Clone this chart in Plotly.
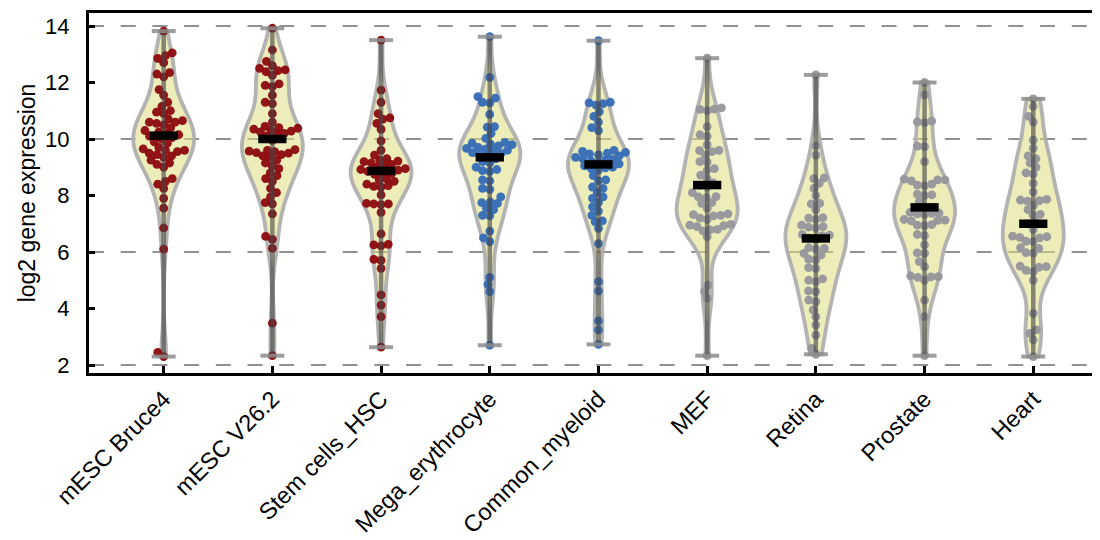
import numpy as np
import plotly.graph_objects as go

categories = ["mESC Bruce4", "mESC V26.2", "Stem cells_HSC", "Mega_erythrocyte",
              "Common_myeloid", "MEF", "Retina", "Prostate", "Heart"]

bruce4 = [13.82, 13.05, 12.95, 12.85, 12.7, 12.35, 12.3, 12.2, 11.75, 11.55, 11.3, 11.15,
          11.0, 10.95, 10.9, 10.7, 10.65, 10.6, 10.6, 10.55, 10.5, 10.4, 10.3, 10.25, 10.2,
          10.15, 10.1, 10.05, 10.0, 9.9, 9.85, 9.7, 9.65, 9.6, 9.6, 9.55, 9.5, 9.45, 9.4,
          9.35, 9.25, 9.15, 9.1, 9.0, 8.6, 8.5, 8.4, 8.25, 7.9, 7.55, 6.85, 6.1, 2.45, 2.3]
v26 = [13.92, 13.15, 12.75, 12.6, 12.5, 12.45, 12.42, 12.38, 12.25, 11.95, 11.9, 11.85, 11.55,
       11.3, 11.25, 10.9, 10.6, 10.45, 10.4, 10.38, 10.35, 10.3, 10.28, 10.25, 10.2, 10.15,
       10.1, 9.95, 9.62, 9.6, 9.57, 9.55, 9.52, 9.5, 9.45, 9.4, 9.35, 9.25, 9.15, 9.05, 8.95,
       8.8, 8.7, 8.6, 8.5, 8.25, 8.1, 7.95, 7.75, 7.7, 7.35, 6.55, 6.45, 6.13, 3.48, 2.33]
hsc = [13.5, 11.73, 11.3, 10.9, 10.75, 10.7, 10.55, 10.34, 9.93, 9.6, 9.43, 9.3, 9.25, 9.22,
       9.2, 9.15, 9.1, 9.05, 9.0, 8.95, 8.92, 8.9, 8.85, 8.8, 8.78, 8.75, 8.6, 8.55, 8.5,
       8.4, 8.35, 8.32, 8.3, 8.02, 7.72, 7.7, 7.7, 7.68, 7.4, 6.64, 6.27, 6.25, 6.22, 5.74,
       5.7, 5.42, 4.48, 4.12, 3.71, 2.63]
mega = [13.62, 12.18, 11.5, 11.45, 11.3, 11.28, 10.87, 10.44, 10.42, 10.2, 10.02, 9.88, 9.85,
        9.82, 9.8, 9.76, 9.7, 9.67, 9.64, 9.6, 9.57, 9.52, 9.48, 9.43, 9.4, 9.3, 9.2, 9.15,
        9.0, 8.92, 8.88, 8.85, 8.55, 8.52, 8.25, 8.22, 7.95, 7.77, 7.75, 7.72, 7.55, 7.5, 7.3,
        7.28, 6.74, 6.5, 6.37, 5.1, 4.85, 4.6, 2.7]
common = [13.48, 11.3, 11.28, 11.25, 11.2, 10.97, 10.8, 10.6, 10.4, 10.3, 9.6, 9.56, 9.53,
          9.5, 9.47, 9.44, 9.4, 9.35, 9.3, 9.28, 9.25, 9.22, 9.18, 9.12, 9.05, 9.0, 8.98, 8.95,
          8.9, 8.7, 8.55, 8.52, 8.3, 8.25, 8.1, 7.95, 7.9, 7.75, 7.6, 7.45, 7.3, 7.1, 7.07,
          6.84, 6.3, 4.95, 4.62, 3.56, 3.24, 2.73]
mef = [12.86, 11.1, 11.06, 11.05, 11.0, 10.44, 10.15, 10.1, 9.8, 9.6, 9.59, 9.55, 9.43, 9.2,
       9.18, 8.95, 8.9, 8.72, 8.6, 8.45, 8.35, 8.3, 8.1, 7.96, 7.95, 7.92, 7.75, 7.72, 7.55,
       7.35, 7.32, 7.3, 7.28, 7.2, 7.15, 6.98, 6.95, 6.93, 6.9, 6.8, 6.78, 6.75, 6.54, 4.83,
       4.6, 4.36, 2.33]
retina = [12.27, 9.76, 9.43, 8.62, 8.6, 8.43, 8.25, 8.0, 7.72, 7.7, 7.5, 7.22, 7.2, 7.15,
          6.95, 6.9, 6.88, 6.85, 6.62, 6.6, 6.58, 6.5, 6.45, 6.15, 6.13, 6.1, 5.95, 5.9, 5.75,
          5.72, 5.45, 5.42, 5.05, 5.0, 4.95, 4.62, 4.6, 4.3, 4.24, 3.95, 3.71, 3.42, 3.06,
          2.59, 2.38]
prostate = [12.0, 11.56, 10.63, 10.61, 10.58, 9.75, 9.73, 9.2, 8.58, 8.55, 8.55, 8.52, 8.4,
            8.37, 8.35, 8.05, 8.02, 8.0, 7.78, 7.6, 7.4, 7.38, 7.37, 7.35, 7.33, 7.15, 7.13,
            7.12, 7.1, 6.97, 6.95, 6.93, 6.62, 6.58, 6.25, 5.97, 5.95, 5.66, 5.48, 5.15, 5.13,
            5.12, 5.1, 5.0, 4.3, 3.71, 2.33]
heart = [11.42, 11.15, 10.8, 10.6, 9.96, 9.67, 9.4, 9.3, 9.15, 9.0, 8.8, 8.76, 8.43, 8.13,
         7.86, 7.84, 7.82, 7.8, 7.66, 7.5, 7.33, 7.31, 7.07, 7.0, 6.8, 6.56, 6.54, 6.52, 6.5,
         6.38, 6.37, 6.15, 6.13, 5.98, 5.96, 5.5, 5.48, 5.46, 5.35, 5.3, 5.0, 3.83, 3.24, 3.12,
         2.89, 2.3]

medians = [10.12, 10.0, 8.87, 9.35, 9.1, 8.37, 6.48, 7.58, 7.0]
y_ticks = [2, 4, 6, 8, 10, 12, 14]
grid_levels = [2, 6, 10, 14]

groups = [bruce4, v26, hsc, mega, common, mef, retina, prostate, heart]
point_colors = ["rgba(140,8,14,0.95)"] * 3 + ["rgba(52,108,182,0.95)"] * 2 + ["rgba(150,150,156,0.95)"] * 4

# page has an 8px body margin: figure is sized so the plot lands where the reference has it
FIG_W, FIG_H = 1092, 532
MARGIN = dict(l=81, r=0, t=5, b=167)
X_RANGE = [-0.687, 8.614]
Y_RANGE = [1.717, 14.46]
PLOT_W = FIG_W - MARGIN["l"] - MARGIN["r"]
PLOT_H = FIG_H - MARGIN["t"] - MARGIN["b"]
PX_X = PLOT_W / (X_RANGE[1] - X_RANGE[0])
PX_Y = PLOT_H / (Y_RANGE[1] - Y_RANGE[0])
SEP = 7.3  # collision distance for the swarm, px


def swarm_offsets(vals):
    """Beeswarm offsets (in x data units) computed in pixel space."""
    order = np.argsort(vals, kind="stable")
    placed = []
    offs = np.zeros(len(vals))
    for idx in order:
        y = vals[idx] * PX_Y
        intervals = []
        for (px, py) in placed:
            dy = abs(y - py)
            if dy < SEP:
                h = np.sqrt(SEP ** 2 - dy ** 2)
                intervals.append((px - h, px + h))
        cands = [0.0] + [a for a, b in intervals] + [b for a, b in intervals]
        cands.sort(key=lambda c: (abs(c), c))
        chosen = 0.0
        for c in cands:
            if all(not (a + 1e-6 < c < b - 1e-6) for a, b in intervals):
                chosen = c
                break
        placed.append((chosen, y))
        offs[idx] = chosen / PX_X
    return offs


fig = go.Figure()
FONT = "Liberation Sans, Arial, Helvetica, sans-serif"

# violins
for i, vals in enumerate(groups):
    fig.add_trace(go.Violin(
        x=[i] * len(vals), y=vals, width=0.56, spanmode="hard", points=False,
        bandwidth=0.72,
        fillcolor="rgba(222,222,128,0.55)",
        line=dict(color="rgba(175,175,175,0.95)", width=3.8),
        box_visible=False, meanline_visible=False, scalemode="width",
        showlegend=False, hoverinfo="skip",
    ))

# swarm points
for i, vals in enumerate(groups):
    v = np.array(vals, dtype=float)
    offs = swarm_offsets(v)
    fig.add_trace(go.Scatter(
        x=i + offs, y=v, mode="markers",
        marker=dict(size=8.8, color=point_colors[i], line=dict(width=0)),
        showlegend=False, hoverinfo="y",
    ))

# whiskers, caps, medians
for i, vals in enumerate(groups):
    lo, hi = min(vals), max(vals)
    fig.add_trace(go.Scatter(x=[i, i], y=[lo, hi], mode="lines",
                             line=dict(color="rgba(70,70,70,0.62)", width=4.5),
                             showlegend=False, hoverinfo="skip"))
    fig.add_trace(go.Scatter(x=[i - 0.11, i + 0.11, None, i - 0.11, i + 0.11],
                             y=[lo, lo, None, hi, hi], mode="lines",
                             line=dict(color="rgba(140,140,140,0.85)", width=4),
                             showlegend=False, hoverinfo="skip"))
    fig.add_trace(go.Scatter(x=[i - 0.13, i + 0.13], y=[medians[i], medians[i]], mode="lines",
                             line=dict(color="black", width=8.5),
                             showlegend=False, hoverinfo="skip"))

for g in grid_levels:
    fig.add_hline(y=g, line=dict(color="rgb(145,145,145)", width=2, dash="15px,16.7px"),
                  layer="below")

fig.update_layout(
    width=FIG_W, height=FIG_H,
    margin=MARGIN,
    paper_bgcolor="white", plot_bgcolor="white",
    font=dict(family=FONT, size=22, color="black"),
    xaxis=dict(range=X_RANGE, tickmode="array", tickvals=list(range(len(categories))),
               ticktext=categories, tickangle=-45, ticks="inside", ticklen=7, tickwidth=2.5,
               tickcolor="black", showline=True, linewidth=3, linecolor="black", mirror=True,
               showgrid=False, zeroline=False, automargin=False,
               tickfont=dict(size=23.5, family=FONT)),
    yaxis=dict(range=Y_RANGE, tickmode="array", tickvals=y_ticks, ticks="inside", ticklen=6,
               tickwidth=2.5, tickcolor="black", showline=True, linewidth=3, linecolor="black",
               showgrid=False, zeroline=False, automargin=False,
               tickfont=dict(size=22, family=FONT),
               ticklabelstandoff=12,
               title=dict(text="log2 gene expression", font=dict(size=23, family=FONT),
                          standoff=4)),
)

fig.write_html("out.html")
